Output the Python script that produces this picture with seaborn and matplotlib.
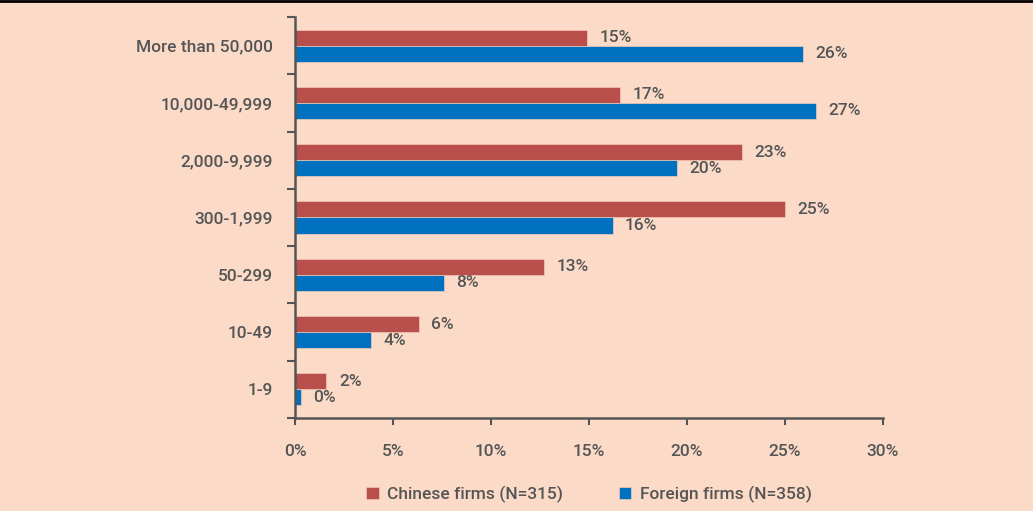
import numpy as np
import pandas as pd
import matplotlib
matplotlib.use("Agg")
import matplotlib.pyplot as plt
from matplotlib.lines import Line2D
from matplotlib.ticker import FixedLocator, PercentFormatter
import seaborn as sns

# datos
categories = ["More than 50,000", "10,000-49,999", "2,000-9,999", "300-1,999",
              "50-299", "10-49", "1-9"]
chinese = [14.9, 16.6, 22.8, 25.0, 12.7, 6.3, 1.6]
foreign = [25.9, 26.6, 19.5, 16.2, 7.6, 3.9, 0.3]
series_names = ["Chinese firms (N=315)", "Foreign firms (N=358)"]

bg = "#FBDBC8"
red = "#B94F4B"
blue = "#0070C0"
grey = "#555555"

df = pd.DataFrame({
    "size": categories * 2,
    "share": chinese + foreign,
    "firm": [series_names[0]] * len(categories) + [series_names[1]] * len(categories),
})

sns.set_style("white")
plt.rcParams["font.family"] = ["Roboto", "DejaVu Sans"]
plt.rcParams["font.weight"] = "medium"

fig = plt.figure(figsize=(10.33, 5.11), dpi=100, facecolor=bg)
ax = fig.add_axes([0.2856, 0.182, 0.5692, 0.7848])
ax.set_facecolor(bg)

sns.barplot(data=df, x="share", y="size", hue="firm", orient="h",
            palette=[red, blue], width=0.56, saturation=1, ax=ax,
            order=categories, hue_order=series_names, errorbar=None,
            edgecolor="#f3c9b6", linewidth=0.5)

fs = 12.5

# etiquetas de valor
for container in ax.containers:
    labels = [f"{b.get_width():.0f}%" for b in container]
    ax.bar_label(container, labels=labels, padding=9, fontsize=fs, color=grey)

ax.set_xlim(0, 30)
ax.set_ylim(6.5, -0.5)
ax.set_xticks(np.arange(0, 31, 5))
ax.xaxis.set_major_formatter(PercentFormatter(decimals=0))
ax.tick_params(axis="x", direction="out", length=5, width=1.5, color=grey,
               labelsize=fs, labelcolor=grey, pad=14, bottom=True)
ax.tick_params(axis="y", which="major", length=0, labelsize=fs,
               labelcolor=grey, pad=16, left=True)
ax.yaxis.set_minor_locator(FixedLocator(np.arange(-0.5, 7, 1)))
ax.tick_params(axis="y", which="minor", direction="out", length=6, width=1.5,
               color=grey, left=True)
ax.set_xlabel("")
ax.set_ylabel("")

for side in ["top", "right"]:
    ax.spines[side].set_visible(False)
for side in ["left", "bottom"]:
    ax.spines[side].set_color(grey)
    ax.spines[side].set_linewidth(1.8)

leg = ax.legend(loc="lower center", bbox_to_anchor=(0.5, -0.25), ncol=2,
                frameon=False, fontsize=fs, handlelength=0.7, handleheight=0.7,
                handletextpad=0.5, columnspacing=3.2, labelcolor=grey)

# linea negra superior
fig.add_artist(Line2D([0, 1], [0.998, 0.998], color="black", lw=2,
                      transform=fig.transFigure))

fig.savefig("out.png", dpi=100, facecolor=bg)
